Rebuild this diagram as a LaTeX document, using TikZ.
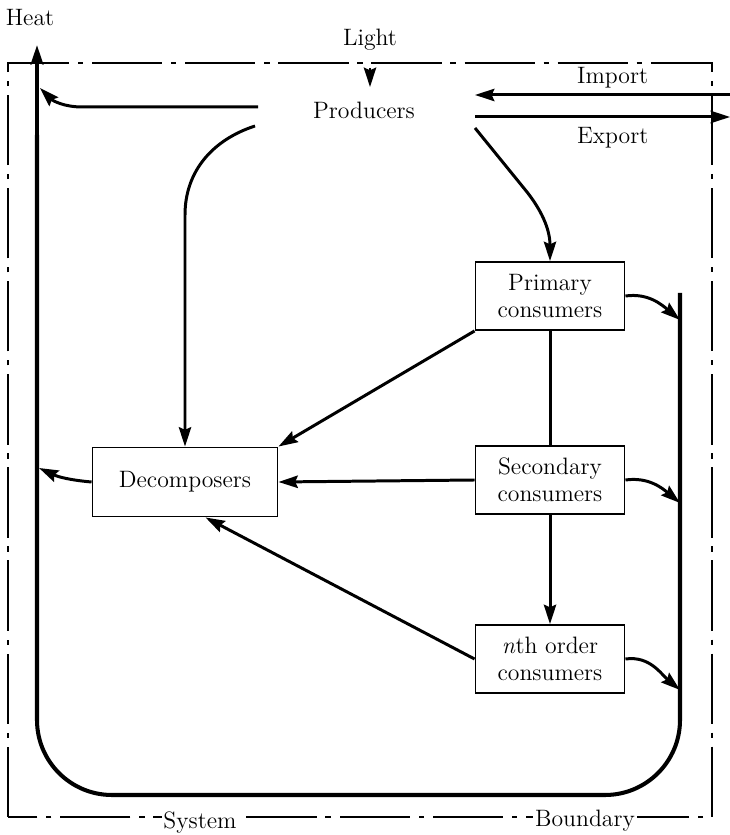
\documentclass[tikz,border=0pt]{standalone}
\usepackage{tikz}
\usetikzlibrary{positioning, arrows.meta}

\begin{document}
\begin{tikzpicture}[x=0.02cm, y=0.02cm,
    txt/.style={font=\fontsize{13.5}{15.5}\selectfont},
    box/.style={txt, draw, line width=1.1pt, align=center,
      minimum width=2.98cm, minimum height=1.36cm, inner sep=2pt},
    flow/.style={line width=1.7pt, -{Stealth[length=11pt, width=7pt, inset=1.5pt]}},
    sink/.style={line width=2.3pt, rounded corners=1.5cm},
    boundary/.style={line width=0.8pt, dash pattern=on 40pt off 5pt on 3pt off 5pt},
    lbl/.style={txt, inner sep=1pt}]
  \useasboundingbox (0,0) rectangle (730,835);

  % system boundary
  \draw[boundary] (8,18) rectangle (712,772);
  \node[lbl, fill=white] (sysl) at (200,12) {System};
  \node[lbl, fill=white] (bndl) at (585,14) {Boundary};

  % nodes
  \node[lbl] (heat) at (30,817) {Heat};
  \node[lbl] (light) at (370,795) {Light};
  \node[lbl] (prod) at (364,725) {Producers};
  \node[box] (prim) at (550,539) {Primary\\consumers};
  \node[box] (sec) at (550,355) {Secondary\\consumers};
  \node[box] (nth) at (550,176) {\textit{n}th order\\consumers};
  \node[box, minimum width=3.7cm, minimum height=1.38cm] (dec) at (185,353) {Decomposers};

  % free ends
  \coordinate (heatTip) at (37,790);
  \coordinate (sinkTop) at (680,542);
  \coordinate (s1) at (680,515);
  \coordinate (s2) at (680,332);
  \coordinate (s3) at (680,145);
  \coordinate (hp) at (40,747);
  \coordinate (hd) at (39,367);
  \coordinate (lightIn) at (370,767);
  \coordinate (lightTip) at (370,748);
  \coordinate (prodW) at (258,728);
  \coordinate (prodSW) at (255,709);
  \coordinate (prodSE) at (475,707);
  \coordinate (impIn) at (730,740);
  \coordinate (impTip) at (475,740);
  \coordinate (expOut) at (475,718);
  \coordinate (expTip) at (730,718);

  % heat sink loop
  \draw[sink] (sinkTop) -- (680,40) -- (37,40) -- (37,700);
  \draw[line width=2.3pt, -{Stealth[length=11pt, width=7pt, inset=1.5pt]}] (37,699) -- (heatTip);

  % inputs and outputs
  \draw[flow] (lightIn) -- (lightTip);
  \draw[flow] (impIn) -- (impTip) node[lbl, above=2pt, pos=0.46] (impl) {Import};
  \draw[flow] (expOut) -- (expTip) node[lbl, below=4pt, pos=0.54] (expl) {Export};
  \draw[flow] (prodW) -- (82,728) to[out=180, in=-45] (hp);

  % energy flow
  \draw[flow] (prodSW) to[out=198, in=90] (185,620) -- (dec.north);
  \draw[flow] (prodSE) -- (527,643) to[out=-52, in=90] (prim.north);
  \draw[line width=1.7pt] (prim.south) -- (sec.north);
  \draw[flow] (sec.south) -- (nth.north);
  \draw[flow] (prim.south west) -- (dec.north east);
  \draw[flow] (sec.west) -- (dec.east);
  \draw[flow] (nth.west) -- (dec.-60);
  \draw[flow] (dec.west) to[out=175, in=-25] (hd);

  % losses to the sink
  \draw[flow] (prim.east) to[out=8, in=140] (s1);
  \draw[flow] (sec.east) to[out=8, in=140] (s2);
  \draw[flow] (nth.east) to[out=8, in=140] (s3);
\end{tikzpicture}
\end{document}
